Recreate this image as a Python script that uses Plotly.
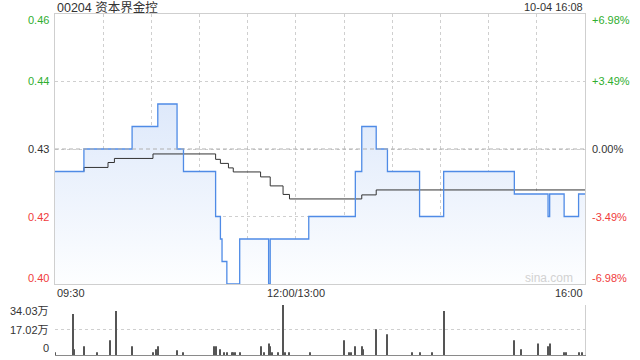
import plotly.graph_objects as go

title_text = "00204 资本界金控"
stamp_text = "10-04 16:08"
watermark = "sina.com"
prev_close = 0.43

# trading-minute axis: minutes since 09:30 (12:00 and 13:00 share minute 150)
time_tick_min = [0, 150, 330]
time_tick_lab = ["09:30", "12:00/13:00", "16:00"]
grid_min = [30, 60, 90, 120, 150, 180, 210, 240, 270, 300]

# price (step changes: minute at which a new price level starts)
price_min = [0, 18, 48, 64, 76, 80, 100, 103, 104, 107, 115, 133, 134, 158,
             187, 191, 200, 207, 227, 242, 286, 307, 308, 317, 326, 330]
price_val = [0.425, 0.43, 0.435, 0.44, 0.43, 0.425, 0.415, 0.41, 0.405, 0.40,
             0.41, 0.40, 0.41, 0.415, 0.425, 0.435, 0.43, 0.425, 0.415, 0.425,
             0.42, 0.415, 0.42, 0.415, 0.42, 0.42]

# average price line (step changes)
avg_min = [0, 18, 33, 37, 61, 100, 103, 108, 111, 128, 134, 142, 146, 191, 200, 330]
avg_val = [0.425, 0.4259, 0.4270, 0.4279, 0.4289, 0.4277, 0.4268, 0.4258,
           0.4249, 0.4238, 0.4218, 0.4199, 0.4189, 0.4198, 0.4209, 0.4209]

price_ticks = [0.40, 0.415, 0.43, 0.445, 0.46]
price_tick_lab = ["0.40", "0.42", "0.43", "0.44", "0.46"]
pct_tick_lab = ["-6.98%", "-3.49%", "0.00%", "+3.49%", "+6.98%"]

# volume (万股) at minutes with visible bars
vol_min = [0, 11, 12, 18, 26, 34, 38, 48, 61, 63, 64, 76, 80, 99, 100, 103, 105,
           107, 110, 111, 112, 115, 128, 130, 133, 134, 135, 139, 142, 143, 146,
           159, 180, 183, 184, 187, 191, 192, 200, 207, 222, 227, 235, 242, 286,
           290, 301, 307, 308, 317, 318, 326, 328]
vol_wan = [1.8, 27.9, 3.9, 5.9, 1.8, 10.0, 30.0, 5.9, 1.8, 3.9, 5.9, 3.2, 1.8,
           5.9, 5.9, 3.9, 1.8, 1.8, 1.8, 1.8, 1.8, 1.8, 5.9, 1.8, 7.9, 5.9, 1.8,
           1.8, 34.03, 1.8, 1.8, 1.8, 10.0, 1.8, 1.8, 5.9, 5.9, 3.9, 17.5, 14.1,
           1.8, 1.8, 1.8, 30.0, 10.0, 3.9, 7.9, 5.9, 7.9, 1.8, 1.8, 1.8, 1.8]
vol_ticks = [0, 17.02, 34.03]
vol_tick_lab = ["0", "17.02万", "34.03万"]

FONT = "Liberation Sans, Arial, Noto Sans CJK SC, sans-serif"
GREEN = "#2fae2f"
RED = "#f03c3c"
DARK = "#333333"
GRID = "#cfcfcf"

W, H = 640, 360
xl, xr = 55 / W, 585 / W
main_dom = [1 - 284 / H, 1 - 14 / H]
vol_dom = [1 - 355 / H, 1 - 305 / H]

fig = go.Figure()

# filled area under price
fig.add_trace(go.Scatter(
    x=price_min, y=price_val, mode="lines", line=dict(width=0, shape="hv"),
    fill="tozeroy",
    fillgradient=dict(type="vertical", start=0.40, stop=0.445,
                      colorscale=[[0, "rgb(253,254,255)"], [1, "rgb(218,230,250)"]]),
    xaxis="x", yaxis="y", hoverinfo="skip", showlegend=False))
# average line
fig.add_trace(go.Scatter(
    x=avg_min, y=avg_val, mode="lines", line=dict(color="#333333", width=1, shape="hv"),
    xaxis="x", yaxis="y", showlegend=False))
# price line
fig.add_trace(go.Scatter(
    x=price_min, y=price_val, mode="lines", line=dict(color="#4f8be6", width=1.3, shape="hv"),
    xaxis="x", yaxis="y", showlegend=False))
# volume
fig.add_trace(go.Bar(
    x=vol_min, y=vol_wan, width=0.62, marker=dict(color="#555555", line=dict(width=0)),
    xaxis="x2", yaxis="y3", showlegend=False))

fig.update_layout(
    width=W, height=H, autosize=False,
    margin=dict(l=0, r=0, t=0, b=0, pad=0),
    paper_bgcolor="white", plot_bgcolor="rgba(0,0,0,0)",
    font=dict(family=FONT, size=11, color=DARK),
    xaxis=dict(domain=[xl, xr], range=[0, 330], tickvals=grid_min,
               showticklabels=False, ticks="", showgrid=True, gridcolor=GRID,
               griddash="dot", gridwidth=1, zeroline=False,
               showline=True, linecolor=GRID, linewidth=1, mirror=True, anchor="y"),
    yaxis=dict(domain=main_dom, range=[0.40, 0.46], tickvals=price_ticks,
               showticklabels=False, ticks="", showgrid=True, gridcolor=GRID,
               griddash="dot", zeroline=False,
               showline=True, linecolor=GRID, linewidth=1, mirror=True, anchor="x"),
    xaxis2=dict(domain=[xl, xr], range=[0, 330], tickvals=[0],
                showticklabels=False, ticks="", showgrid=True, gridcolor=GRID,
                griddash="dot", zeroline=False,
                showline=True, linecolor="#8a8a8a", linewidth=1, anchor="y3"),
    yaxis3=dict(domain=vol_dom, range=[0, 34.03], tickvals=vol_ticks[1:],
                showticklabels=False, ticks="", showgrid=True, gridcolor=GRID,
                griddash="dot", zeroline=False, side="right",
                showline=True, linecolor=GRID, linewidth=1, anchor="x2"),
)

# previous close dashed line
fig.add_shape(type="line", xref="x", yref="y", x0=0, x1=330, y0=prev_close, y1=prev_close,
              line=dict(color="#b0b0b0", width=1, dash="4px,3px"))

ann = []
ann.append(dict(text=title_text, xref="paper", yref="paper", x=55 / W, y=1 - 7 / H,
                xanchor="left", yanchor="middle", showarrow=False,
                font=dict(size=12.5, color=DARK, family=FONT)))
ann.append(dict(text=stamp_text, xref="paper", yref="paper", x=585 / W, y=1 - 7 / H,
                xanchor="right", yanchor="middle", showarrow=False,
                font=dict(size=11, color=DARK, family=FONT)))
ann.append(dict(text=watermark, xref="x", yref="y", x=324, y=0.40, yshift=6,
                xanchor="right", yanchor="middle", showarrow=False,
                font=dict(size=12, color="#d2d2d2", family=FONT)))

n = len(price_ticks)
for i, (v, lab, pl) in enumerate(zip(price_ticks, price_tick_lab, pct_tick_lab)):
    col = GREEN if v > prev_close + 1e-9 else (RED if v < prev_close - 1e-9 else DARK)
    shift = -6 if i == n - 1 else (6 if i == 0 else 0)
    ann.append(dict(text=lab, xref="paper", yref="y", x=51 / W, y=v, yshift=shift,
                    xanchor="right", yanchor="middle", showarrow=False,
                    font=dict(size=11, color=col)))
    ann.append(dict(text=pl, xref="paper", yref="y", x=590 / W, y=v, yshift=shift,
                    xanchor="left", yanchor="middle", showarrow=False,
                    font=dict(size=11, color=col)))

for i, (v, lab) in enumerate(zip(vol_ticks, vol_tick_lab)):
    shift = -6 if i == len(vol_ticks) - 1 else (7 if i == 0 else 0)
    ann.append(dict(text=lab, xref="paper", yref="y3", x=51 / W, y=v, yshift=shift,
                    xanchor="right", yanchor="middle", showarrow=False,
                    font=dict(size=11, color=DARK)))

anchors = ["left", "center", "right"]
for m, lab, a in zip(time_tick_min, time_tick_lab, anchors):
    ann.append(dict(text=lab, xref="x", yref="paper", x=m, y=1 - 293 / H,
                    xanchor=a, yanchor="middle", showarrow=False,
                    font=dict(size=11, color=DARK)))

fig.update_layout(annotations=ann)
fig.write_html("out.html")
